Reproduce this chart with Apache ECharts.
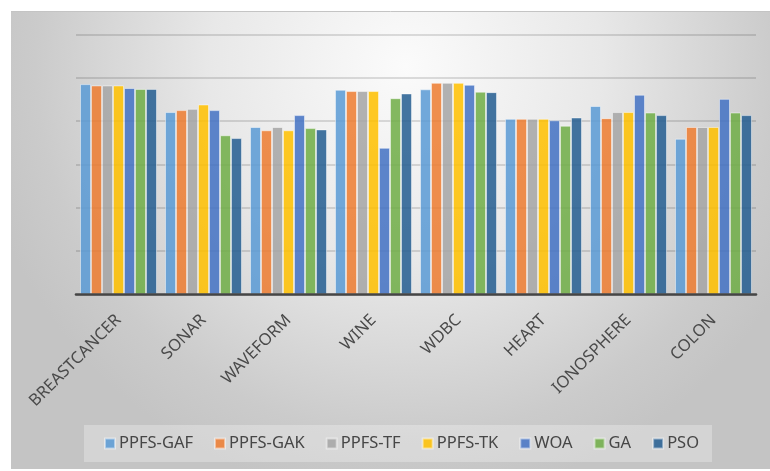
<!DOCTYPE html>
<html>
<head>
<meta charset="utf-8">
<script src="https://cdn.jsdelivr.net/npm/echarts@6/dist/echarts.min.js"></script>
<style>
  html, body { margin: 0; padding: 0; background: #ffffff; }
  #chart { width: 770px; height: 471px; }
</style>
</head>
<body>
<div id="chart"></div>
<script>
// Datasets on the category axis
const categories = ['BREASTCANCER', 'SONAR', 'WAVEFORM', 'WINE', 'WDBC', 'HEART', 'IONOSPHERE', 'COLON'];

// Accuracy per method, one value per dataset
const ppfsGaf = [0.971, 0.842, 0.773, 0.945, 0.947, 0.811, 0.870, 0.719];
const ppfsGak = [0.965, 0.851, 0.758, 0.939, 0.977, 0.811, 0.814, 0.773];
const ppfsTf  = [0.965, 0.857, 0.773, 0.939, 0.977, 0.811, 0.842, 0.773];
const ppfsTk  = [0.965, 0.877, 0.758, 0.939, 0.977, 0.811, 0.842, 0.773];
const woa     = [0.953, 0.851, 0.828, 0.677, 0.968, 0.804, 0.922, 0.903];
const ga      = [0.949, 0.735, 0.768, 0.906, 0.936, 0.779, 0.840, 0.840];
const pso     = [0.949, 0.722, 0.762, 0.928, 0.934, 0.817, 0.828, 0.828];

const seriesNames = ['PPFS-GAF', 'PPFS-GAK', 'PPFS-TF', 'PPFS-TK', 'WOA', 'GA', 'PSO'];
const seriesValues = [ppfsGaf, ppfsGak, ppfsTf, ppfsTk, woa, ga, pso];
const palette = ['#5B9BD5', '#ED7D31', '#A5A5A5', '#FFC000', '#4472C4', '#70AD47', '#255E91'];

const chart = echarts.init(document.getElementById('chart'), null, { renderer: 'canvas' });

const font = "'Noto Sans', 'Open Sans', sans-serif";

chart.setOption({
  animation: false,
  color: palette,
  graphic: [
    {
      type: 'rect',
      z: -10,
      silent: true,
      shape: { x: 11, y: 11, width: 759, height: 458 },
      style: {
        fill: {
          type: 'radial', x: 0.52, y: 0.12, r: 0.95,
          colorStops: [
            { offset: 0, color: '#fbfbfb' },
            { offset: 0.45, color: '#e8e8e8' },
            { offset: 0.85, color: '#cbcbcb' },
            { offset: 1, color: '#c4c4c4' }
          ]
        }
      }
    },
    {
      type: 'line',
      z: -9,
      silent: true,
      shape: { x1: 11, y1: 11.5, x2: 770, y2: 11.5 },
      style: { stroke: '#c4c4c4', lineWidth: 1 }
    }
  ],
  grid: { left: 76, right: 14, top: 34.5, bottom: 176.5, containLabel: false },
  legend: {
    data: seriesNames,
    left: 84,
    top: 425,
    padding: [10, 13, 10, 20],
    backgroundColor: 'rgba(255,255,255,0.28)',
    itemWidth: 10,
    itemHeight: 10,
    itemGap: 21,
    icon: 'rect',
    textStyle: { fontFamily: font, fontSize: 16.5, color: '#464646', lineHeight: 16, padding: [0, 0, 0, -1] }
  },
  xAxis: {
    type: 'category',
    data: categories,
    z: 5,
    axisLine: { show: true, lineStyle: { color: '#454545', width: 2.6 } },
    axisTick: { show: false },
    axisLabel: {
      rotate: 45,
      interval: 0,
      margin: 23,
      fontFamily: font,
      fontSize: 16.5,
      color: '#4a4a4a'
    },
    splitLine: { show: false }
  },
  yAxis: {
    type: 'value',
    min: 0,
    max: 1.2,
    interval: 0.2,
    axisLine: { show: false },
    axisTick: { show: false },
    axisLabel: { show: false },
    splitLine: { show: true, lineStyle: { color: 'rgba(0,0,0,0.17)', width: 1.5 } }
  },
  series: seriesNames.map((name, i) => ({
    name: name,
    type: 'bar',
    data: seriesValues[i],
    barGap: '0%',
    barCategoryGap: '9.4%',
    itemStyle: {
      color: palette[i],
      opacity: 0.86,
      borderColor: 'rgba(255,255,255,0.55)',
      borderWidth: 1
    }
  }))
});
</script>
</body>
</html>
